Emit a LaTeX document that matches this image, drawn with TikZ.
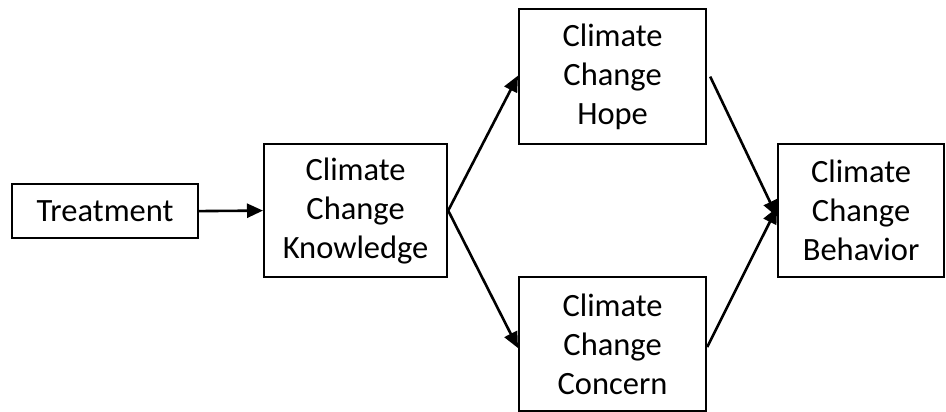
\documentclass[tikz,border=0pt]{standalone}
\usepackage{fontspec}
\setmainfont{Carlito}
\usetikzlibrary{arrows.meta}
\begin{document}
\begin{tikzpicture}[x=1pt,y=-1pt,
  box/.style={draw, line width=2.2pt, align=center, inner sep=0pt,
    font=\fontsize{32.5}{39}\selectfont, anchor=north west},
  link/.style={line width=2.6pt, -{Triangle[length=16pt,width=14pt]}}]
\useasboundingbox (0,0) rectangle (946,412);
\node[box, minimum width=186pt, minimum height=54pt] (treat) at (11,183) {Treatment};
\node[box, minimum width=183pt, minimum height=133pt] (know) at (263,143) {Climate\\Change\\Knowledge};
\node[box, minimum width=187pt, minimum height=135pt] (hope) at (518,8) {Climate\\Change\\Hope};
\node[box, minimum width=187pt, minimum height=134pt] (concern) at (518,276) {Climate\\Change\\Concern};
\node[box, minimum width=166pt, minimum height=133pt] (behav) at (777,143) {Climate\\Change\\Behavior};
\draw[link] (treat.east) -- (know.west);
\draw[link] (know.east) -- ([yshift=1pt]hope.west);
\draw[link] (know.east) -- ([yshift=-4pt]concern.west);
\draw[link] ([xshift=3pt]hope.east) -- ([yshift=-6pt]behav.west);
\draw[link] ([yshift=-3pt]concern.east) -- ([yshift=3pt]behav.west);
\end{tikzpicture}
\end{document}
